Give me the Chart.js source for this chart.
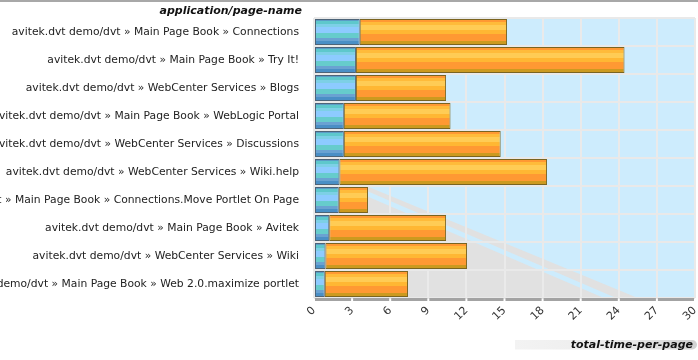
<!DOCTYPE html>
<html><head><meta charset="utf-8">
<script src="https://cdn.jsdelivr.net/npm/chart.js@4"></script>
<style>html,body{margin:0;padding:0;background:#fff}canvas{display:block}</style>
</head><body>
<canvas id="c" width="698" height="360"></canvas>
<script>
const categories = [
  'avitek.dvt demo/dvt » Main Page Book » Connections',
  'avitek.dvt demo/dvt » Main Page Book » Try It!',
  'avitek.dvt demo/dvt » WebCenter Services » Blogs',
  'avitek.dvt demo/dvt » Main Page Book » WebLogic Portal',
  'avitek.dvt demo/dvt » WebCenter Services » Discussions',
  'avitek.dvt demo/dvt » WebCenter Services » Wiki.help',
  'avitek.dvt demo/dvt » Main Page Book » Connections.Move Portlet On Page',
  'avitek.dvt demo/dvt » Main Page Book » Avitek',
  'avitek.dvt demo/dvt » WebCenter Services » Wiki',
  'avitek.dvt demo/dvt » Main Page Book » Web 2.0.maximize portlet'
];
const baseTime  = [3.6, 3.3, 3.3, 2.35, 2.35, 2.0, 1.95, 1.2, 0.9, 0.85];
const extraTime = [11.6, 21.15, 7.1, 8.4, 12.35, 16.35, 2.3, 9.2, 11.15, 6.55];
const xTicks = [0, 3, 6, 9, 12, 15, 18, 21, 24, 27, 30];
const yTitle = 'application/page-name';
const xTitle = 'total-time-per-page';

const BAR_PCT = 0.93;
const FONT = '"DejaVu Sans", sans-serif';

function hardStops(bands) {
  const s = [];
  bands.forEach(([a, b, col]) => { s.push([a, col]); s.push([b, col]); });
  return s;
}
const blueStops = hardStops([
  [0, 0.07, '#5a9cc6'], [0.07, 0.18, '#5ec8cc'], [0.18, 0.32, '#7dd0e6'],
  [0.32, 0.52, '#8dcbff'], [0.52, 0.72, '#66cccc'], [0.72, 0.86, '#6aa2d2'], [0.86, 1, '#4a8fc6']
]);
const orangeStops = hardStops([
  [0, 0.1, '#ff9933'], [0.1, 0.24, '#ffbb3a'], [0.24, 0.44, '#ffcc55'],
  [0.44, 0.58, '#ffb733'], [0.58, 0.86, '#ff9933'], [0.86, 1, '#cc9a1f']
]);

function barGradient(stops, fallback) {
  return (c) => {
    const chart = c.chart, ys = chart.scales.y, a = chart.chartArea;
    if (!a || !ys) return fallback;
    const cy = ys.getPixelForValue(c.dataIndex);
    const h = (a.bottom - a.top) / categories.length * BAR_PCT;
    const g = chart.ctx.createLinearGradient(0, cy - h / 2, 0, cy + h / 2);
    stops.forEach(([o, col]) => g.addColorStop(o, col));
    return g;
  };
}

function poly(ctx, pts) {
  ctx.beginPath();
  pts.forEach((p, i) => i ? ctx.lineTo(p[0], p[1]) : ctx.moveTo(p[0], p[1]));
  ctx.closePath();
  ctx.fill();
}

const PLOT_BG = '#cdecfd';
const decor = {
  id: 'decor',
  beforeDraw(chart) {
    const { ctx, chartArea: a } = chart;
    const W = a.right - a.left, H = a.bottom - a.top;
    const P = (fx, fy) => [a.left + fx * W, a.top + fy * H];
    ctx.save();
    ctx.fillStyle = PLOT_BG;
    ctx.fillRect(a.left, a.top, W, H);
    ctx.fillStyle = '#e1e1e1';
    poly(ctx, [P(0.142, 0.6025), P(0.850, 1), P(0, 1), P(0, 0.6025)]);
    ctx.fillStyle = PLOT_BG;
    poly(ctx, [P(0.142, 0.62), P(0.793, 1), P(0.761, 1), P(0.142, 0.638)]);
    ctx.restore();
  },
  afterDraw(chart) {
    const { ctx, chartArea: a } = chart;
    const xs = chart.scales.x;
    ctx.save();
    ctx.fillStyle = '#a8a8a8';
    ctx.fillRect(0, 0, chart.width, 2);
    ctx.fillStyle = '#a3a3a3';
    for (let i = 0; i < xTicks.length - 1; i++) {
      const x0 = xs.getPixelForValue(xTicks[i]) + 1;
      const x1 = xs.getPixelForValue(xTicks[i + 1]) - 1;
      ctx.fillRect(x0, a.bottom, x1 - x0, 3);
    }
    ctx.fillStyle = '#111';
    ctx.font = 'italic bold 11px ' + FONT;
    ctx.textAlign = 'right';
    ctx.textBaseline = 'middle';
    ctx.fillText(yTitle, a.left - 12, 11);
    const pl = 515, pr = 697, pt = 340, pb = 349.5, r = (pb - pt) / 2;
    const g = ctx.createLinearGradient(pl, 0, pr, 0);
    g.addColorStop(0, '#f3f3f3');
    g.addColorStop(0.6, '#ebebeb');
    g.addColorStop(1, '#d2d2d2');
    ctx.fillStyle = g;
    ctx.beginPath();
    ctx.moveTo(pl, pt);
    ctx.lineTo(pr - r, pt);
    ctx.arc(pr - r, pt + r, r, -Math.PI / 2, Math.PI / 2);
    ctx.lineTo(pl, pb);
    ctx.closePath();
    ctx.fill();
    ctx.fillStyle = '#111';
    ctx.fillText(xTitle, 693, 345);
    ctx.restore();
  }
};

new Chart(document.getElementById('c'), {
  type: 'bar',
  data: {
    labels: categories,
    datasets: [
      {
        label: 'base',
        data: baseTime,
        backgroundColor: barGradient(blueStops, '#66cccc'),
        borderColor: '#4d6478',
        borderWidth: 1,
        borderSkipped: false,
        barPercentage: BAR_PCT,
        categoryPercentage: 1
      },
      {
        label: 'extra',
        data: extraTime,
        backgroundColor: barGradient(orangeStops, '#ff9933'),
        borderColor: '#7a6420',
        borderWidth: 1,
        borderSkipped: false,
        barPercentage: BAR_PCT,
        categoryPercentage: 1
      }
    ]
  },
  options: {
    indexAxis: 'y',
    responsive: false,
    animation: false,
    devicePixelRatio: 1,
    layout: { padding: { top: 18, right: 3, left: 0, bottom: 0 } },
    plugins: { legend: { display: false }, tooltip: { enabled: false }, title: { display: false } },
    scales: {
      x: {
        stacked: true,
        min: 0, max: 30,
        afterBuildTicks: s => { s.ticks = xTicks.map(v => ({ value: v })); },
        afterFit: s => { s.height = 62; s.paddingLeft = 0; s.paddingRight = 0; },
        grid: { color: '#eaeaea', lineWidth: 2, drawTicks: false },
        border: { display: false },
        ticks: {
          autoSkip: false, minRotation: 45, maxRotation: 45, padding: 6,
          color: '#333', font: { family: FONT, size: 11 }
        }
      },
      y: {
        stacked: true,
        afterFit: s => { s.width = 314; s.paddingTop = 0; s.paddingBottom = 0; },
        grid: { color: '#e9e9e9', lineWidth: 2, drawTicks: false, offset: true },
        border: { display: false },
        ticks: { padding: 15, color: '#222', font: { family: FONT, size: 10.75 } }
      }
    }
  },
  plugins: [decor]
});
</script>
</body></html>
